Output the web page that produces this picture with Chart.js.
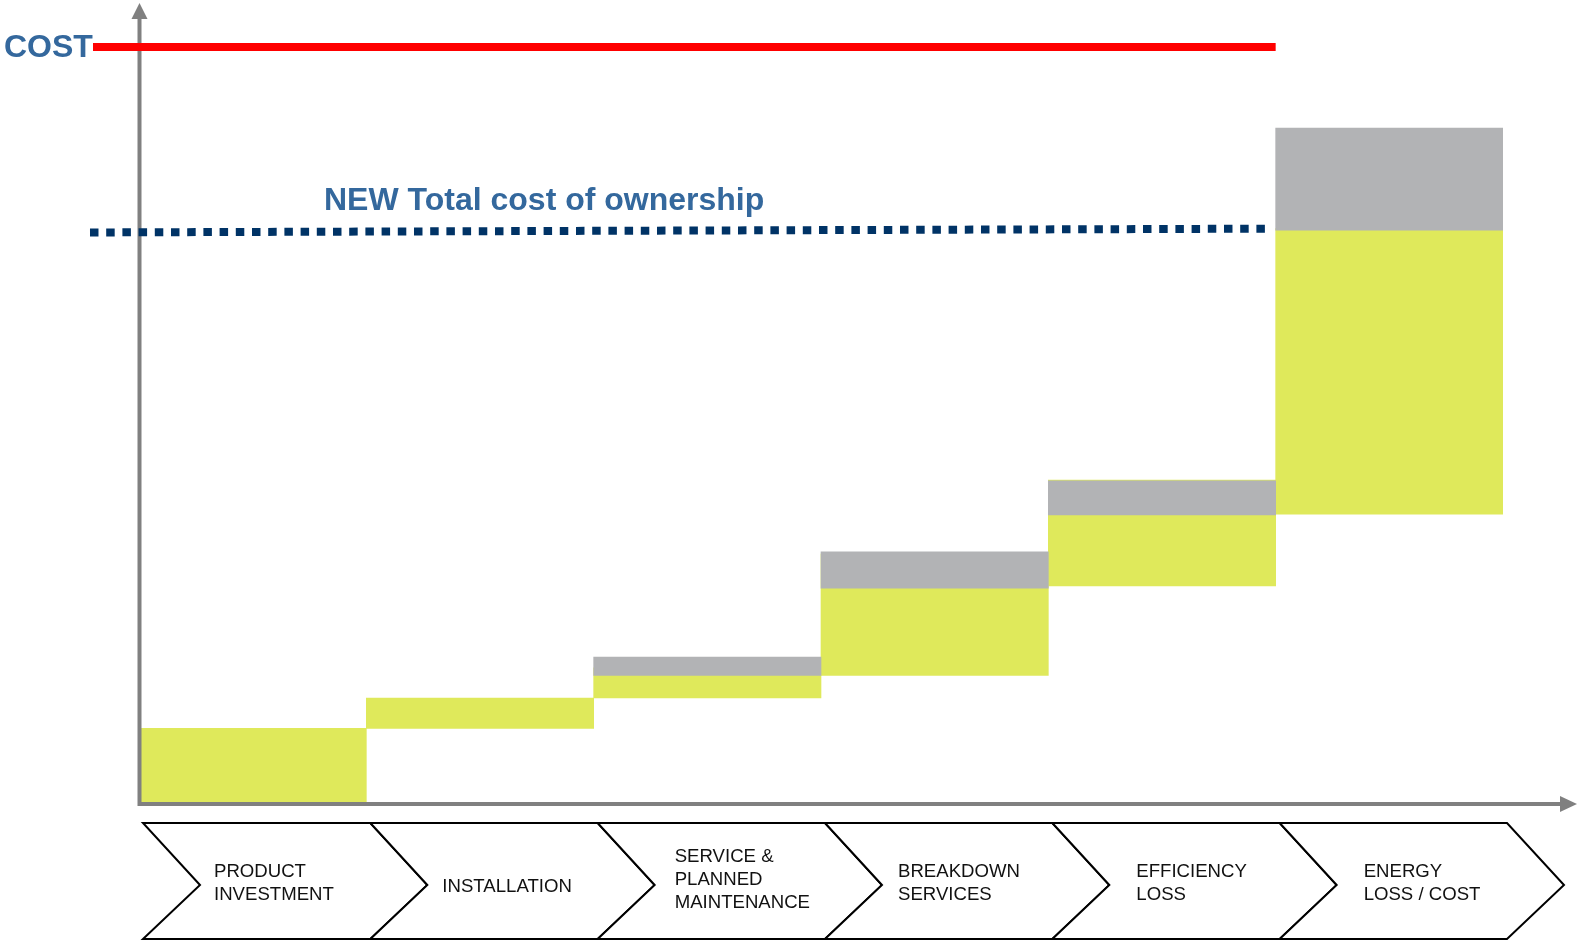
<!DOCTYPE html>
<html>
<head>
<meta charset="utf-8">
<title>Total cost of ownership</title>
<script src="https://cdn.jsdelivr.net/npm/chart.js@4.4.1/dist/chart.umd.min.js"></script>
<style>
  html, body { margin: 0; padding: 0; background: #ffffff; }
  canvas { display: block; }
</style>
</head>
<body>
<canvas id="tco" width="1579" height="942"></canvas>
<script>
// life cycle stages, one chevron each
var stages = [
    ['PRODUCT', 'INVESTMENT'],
    ['INSTALLATION'],
    ['SERVICE &', 'PLANNED', 'MAINTENANCE'],
    ['BREAKDOWN', 'SERVICES'],
    ['EFFICIENCY', 'LOSS'],
    ['ENERGY', 'LOSS / COST']
];
// cost added at every stage, [from, to]
var stageCost = [[0, 10], [10, 14], [14, 18], [17, 33], [28.8, 42.8], [38.3, 76]];
// the part that the new solution saves (grey)
var stageSaving = [null, null, [17, 19.4], [28.5, 33.3], [38.2, 42.7], [75.8, 89.3]];

var costLevel = 100;
var newTcoLevel = [75.5, 76.0];   // start / end of the dotted line
var costLabel = 'COST';
var newTcoLabel = 'NEW Total cost of ownership';

var GREEN = '#dfe95b';
var GREY = '#b2b3b5';
var AXIS = '#808080';
var BLUE = '#34689d';
var NAVY = '#003366';
var FONT = '"Liberation Sans", Arial, sans-serif';

// text indent inside each chevron
var textInset = [71, 72, 77, 73, 84, 84];

function arrowHead(ctx, x1, y1, x2, y2, x3, y3) {
    ctx.beginPath();
    ctx.moveTo(x1, y1);
    ctx.lineTo(x2, y2);
    ctx.lineTo(x3, y3);
    ctx.closePath();
    ctx.fill();
}

var overlay = {
    id: 'overlay',
    afterDraw: function (chart) {
        var ctx = chart.ctx;
        var area = chart.chartArea;
        var xs = chart.scales.x;
        var ys = chart.scales.y;
        var half = (xs.getPixelForValue(1) - xs.getPixelForValue(0)) / 2;
        var lastLeft = xs.getPixelForValue(stages.length - 1) - half;

        ctx.save();

        // axes with arrow heads
        var ox = area.left + 0.5;
        var oy = ys.getPixelForValue(0);
        ctx.strokeStyle = AXIS;
        ctx.fillStyle = AXIS;
        ctx.lineWidth = 4;
        ctx.beginPath();
        ctx.moveTo(ox, oy + 2);
        ctx.lineTo(ox, 16);
        ctx.moveTo(ox - 2, oy);
        ctx.lineTo(1561, oy);
        ctx.stroke();
        arrowHead(ctx, ox, 3, ox - 8, 19, ox + 8, 19);
        arrowHead(ctx, 1577, oy, 1560, oy - 8, 1560, oy + 8);

        // current cost line
        var yc = ys.getPixelForValue(costLevel);
        ctx.strokeStyle = '#ff0000';
        ctx.lineWidth = 8;
        ctx.beginPath();
        ctx.moveTo(area.left - 46, yc);
        ctx.lineTo(lastLeft, yc);
        ctx.stroke();

        ctx.fillStyle = BLUE;
        ctx.font = 'bold 32px ' + FONT;
        ctx.textAlign = 'left';
        ctx.textBaseline = 'middle';
        ctx.fillText(costLabel, 4, yc + 1);

        // new total cost of ownership, dotted
        var yt0 = ys.getPixelForValue(newTcoLevel[0]);
        var yt1 = ys.getPixelForValue(newTcoLevel[1]);
        ctx.strokeStyle = NAVY;
        ctx.lineWidth = 8;
        ctx.setLineDash([8.5, 7.7]);
        ctx.beginPath();
        ctx.moveTo(area.left - 49, yt0);
        ctx.lineTo(lastLeft - 10, yt1);
        ctx.stroke();
        ctx.setLineDash([]);

        ctx.fillStyle = BLUE;
        ctx.font = 'bold 32px ' + FONT;
        ctx.textBaseline = 'alphabetic';
        ctx.fillText(newTcoLabel, area.left + 185, yt0 - 22);

        // chevrons under the x axis
        var top = 823, bottom = 939, mid = 885, depth = 57;
        ctx.strokeStyle = '#000000';
        ctx.lineWidth = 2;
        ctx.lineJoin = 'miter';
        ctx.font = '18.6px ' + FONT;
        ctx.textBaseline = 'middle';
        for (var i = 0; i < stages.length; i++) {
            var l = xs.getPixelForValue(i) - half + 4;
            var r = l + 2 * half;
            ctx.beginPath();
            ctx.moveTo(l, top);
            ctx.lineTo(r, top);
            ctx.lineTo(r + depth, mid);
            ctx.lineTo(r, bottom);
            ctx.lineTo(l, bottom);
            ctx.lineTo(l + depth, mid);
            ctx.closePath();
            ctx.fillStyle = '#ffffff';
            ctx.fill();
            ctx.stroke();

            ctx.fillStyle = '#111111';
            var lines = stages[i];
            var center = 887 - (lines.length - 1) * 3.5;
            for (var j = 0; j < lines.length; j++) {
                ctx.fillText(lines[j], l + textInset[i], center + (j - (lines.length - 1) / 2) * 23.2);
            }
        }

        ctx.restore();
    }
};

new Chart(document.getElementById('tco'), {
    type: 'bar',
    data: {
        labels: stages,
        datasets: [{
            label: 'saving',
            data: stageSaving,
            backgroundColor: GREY,
            barPercentage: 1,
            categoryPercentage: 1,
            order: 1
        }, {
            label: 'cost',
            data: stageCost,
            backgroundColor: GREEN,
            barPercentage: 1,
            categoryPercentage: 1,
            order: 2
        }]
    },
    options: {
        responsive: false,
        animation: false,
        layout: {
            padding: { left: 139, right: 76, top: 47, bottom: 138 }
        },
        scales: {
            x: { display: false, stacked: true },
            y: { display: false, min: 0, max: costLevel }
        },
        plugins: {
            legend: { display: false },
            tooltip: { enabled: false }
        }
    },
    plugins: [overlay]
});
</script>
</body>
</html>
